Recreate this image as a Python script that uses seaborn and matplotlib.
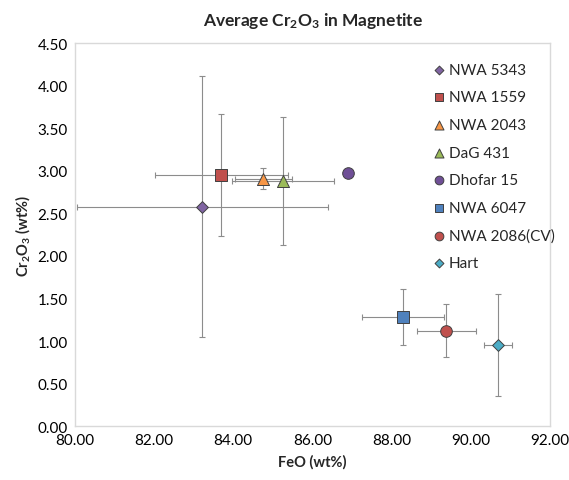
import matplotlib
matplotlib.use("Agg")
import matplotlib.pyplot as plt
import seaborn as sns
import pandas as pd
from matplotlib.ticker import FormatStrFormatter, MultipleLocator

samples = ["NWA 5343", "NWA 1559", "NWA 2043", "DaG 431", "Dhofar 15",
           "NWA 6047", "NWA 2086(CV)", "Hart"]
feo = [83.22, 83.70, 84.76, 85.26, 86.90, 88.28, 89.38, 90.68]
cr2o3 = [2.58, 2.95, 2.91, 2.88, 2.98, 1.28, 1.12, 0.95]
feo_err = [3.17, 1.68, 0.72, 1.28, 0.0, 1.03, 0.74, 0.36]
cr2o3_err = [1.53, 0.72, 0.12, 0.75, 0.0, 0.33, 0.31, 0.60]
colors = ["#8064A2", "#C0504D", "#F79646", "#9BBB59", "#6F4F96",
          "#4F81BD", "#C0504D", "#4BACC6"]
markers = ["D", "s", "^", "^", "o", "s", "o", "D"]
sizes = [36, 70, 75, 75, 70, 70, 70, 36]

df = pd.DataFrame({"Sample": samples, "FeO": feo, "Cr2O3": cr2o3,
                   "xerr": feo_err, "yerr": cr2o3_err})

sns.set_style("white")
plt.rcParams["font.family"] = ["Lato", "DejaVu Sans"]
plt.rcParams["mathtext.fontset"] = "custom"
plt.rcParams["mathtext.rm"] = "Lato:bold"
plt.rcParams["mathtext.default"] = "rm"

fig = plt.figure(figsize=(5.69, 4.81), dpi=100)
ax = fig.add_axes([0.131, 0.112, 0.836, 0.796])

for i, r in df.iterrows():
    if r["xerr"] > 0 or r["yerr"] > 0:
        ax.errorbar(r["FeO"], r["Cr2O3"], xerr=r["xerr"], yerr=r["yerr"],
                    fmt="none", ecolor="#8C8C8C", elinewidth=0.8,
                    capsize=2.2, capthick=0.8, zorder=1)

for i, r in df.iterrows():
    sns.scatterplot(x=[r["FeO"]], y=[r["Cr2O3"]], ax=ax, marker=markers[i],
                    s=sizes[i], color=colors[i], edgecolor="#404040",
                    linewidth=0.7, label=r["Sample"], zorder=3)

ax.set_xlim(80, 92)
ax.set_ylim(0, 4.5)
ax.xaxis.set_major_locator(MultipleLocator(2))
ax.yaxis.set_major_locator(MultipleLocator(0.5))
ax.xaxis.set_major_formatter(FormatStrFormatter("%.2f"))
ax.yaxis.set_major_formatter(FormatStrFormatter("%.2f"))
ax.tick_params(axis="both", length=0, labelsize=11, colors="#000000", pad=5)
for s in ax.spines.values():
    s.set_color("#D9D9D9")
    s.set_linewidth(1.0)

ax.set_xlabel("FeO (wt%)", fontsize=10.5, fontweight="bold", labelpad=5)
ax.set_ylabel("Cr$_2$O$_3$ (wt%)", fontsize=10.5, fontweight="bold", labelpad=4)
fig.suptitle("Average Cr$_2$O$_3$ in Magnetite", fontsize=12.5, fontweight="bold",
             x=0.55, y=0.978)

leg = ax.legend(loc="upper left", bbox_to_anchor=(0.737, 0.965), frameon=False,
                fontsize=11, labelspacing=0.89, handletextpad=0.15,
                handlelength=1.0, borderaxespad=0, markerscale=0.75)

fig.savefig("out.png", dpi=100)
